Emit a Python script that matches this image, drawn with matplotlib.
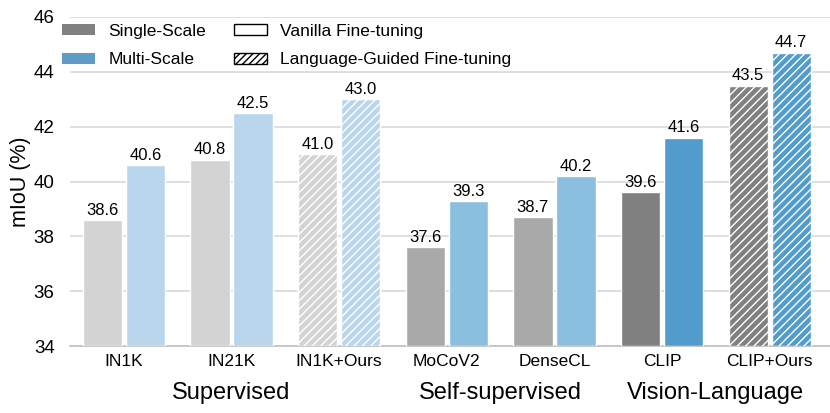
import numpy as np
import matplotlib.pyplot as plt
from matplotlib.patches import Patch

plt.rcParams['font.family'] = ['Liberation Sans', 'DejaVu Sans']

# ============ Data ============
models = ['IN1K', 'IN21K', 'IN1K+Ours', 'MoCoV2', 'DenseCL', 'CLIP', 'CLIP+Ours']
single = [38.6, 40.8, 41.0, 37.6, 38.7, 39.6, 43.5]
multi = [40.6, 42.5, 43.0, 39.3, 40.2, 41.6, 44.7]
guided = [False, False, True, False, False, False, True]
groups = ['Supervised', 'Self-supervised', 'Vision-Language']
group_pos = [1, 3.5, 5.5]

# mau theo nhom
gray_cols = ['#d3d3d3', '#d3d3d3', '#d3d3d3', '#a9a9a9', '#a9a9a9', '#808080', '#808080']
blue_cols = ['#b9d6ec', '#b9d6ec', '#b9d6ec', '#8bbfdf', '#8bbfdf', '#529ccd', '#529ccd']

plt.rcParams['hatch.linewidth'] = 1.0

fig = plt.figure(figsize=(8.3, 4.13), dpi=100)
ax = fig.add_axes([0.0843, 0.162, 0.9157, 0.797])

x = np.arange(len(models))
w = 0.365
off = 0.2
for i in range(len(models)):
    h = '////' if guided[i] else None
    ax.bar(x[i] - off, single[i] - 34, w, bottom=34, color=gray_cols[i],
           edgecolor='white', linewidth=1, hatch=h, zorder=3)
    ax.bar(x[i] + off, multi[i] - 34, w, bottom=34, color=blue_cols[i],
           edgecolor='white', linewidth=1, hatch=h, zorder=3)
    ax.text(x[i] - off, single[i] + 0.08, f'{single[i]:.1f}', ha='center', va='bottom', fontsize=12)
    ax.text(x[i] + off, multi[i] + 0.08, f'{multi[i]:.1f}', ha='center', va='bottom', fontsize=12)

ax.set_ylim(34, 46)
ax.set_xlim(-0.50, 6.56)
ax.set_yticks([34, 36, 38, 40, 42, 44, 46])
ax.set_xticks(x)
ax.set_xticklabels(models, fontsize=12.5)
ax.tick_params(axis='y', labelsize=13.5, length=0, pad=11)
ax.tick_params(axis='x', length=0, pad=6)
ax.set_ylabel('mIoU (%)', fontsize=15.5, labelpad=2)
ax.grid(axis='y', color='#d9d9d9', lw=1.2, zorder=0)
for s in ['top', 'right', 'left']:
    ax.spines[s].set_visible(False)
ax.spines['bottom'].set_color('#bfbfbf')
ax.spines['bottom'].set_linewidth(1.2)

for g, p in zip(groups, group_pos):
    ax.text(p, 32.28, g, ha='center', va='center', fontsize=17)

handles = [Patch(facecolor='#808080', edgecolor='none'),
           Patch(facecolor='#5f9bc4', edgecolor='none'),
           Patch(facecolor='white', edgecolor='black', linewidth=1),
           Patch(facecolor='white', edgecolor='black', hatch='/////', linewidth=1)]
labels = ['Single-Scale', 'Multi-Scale', 'Vanilla Fine-tuning', 'Language-Guided Fine-tuning']
ax.legend(handles, labels, ncol=2, loc='upper left', bbox_to_anchor=(-0.019, 1.0),
          frameon=False, fontsize=12.5, handlelength=1.9, handleheight=0.6,
          handletextpad=0.75, columnspacing=1.6, labelspacing=0.78, borderaxespad=0)

fig.savefig('out.png', dpi=100)
